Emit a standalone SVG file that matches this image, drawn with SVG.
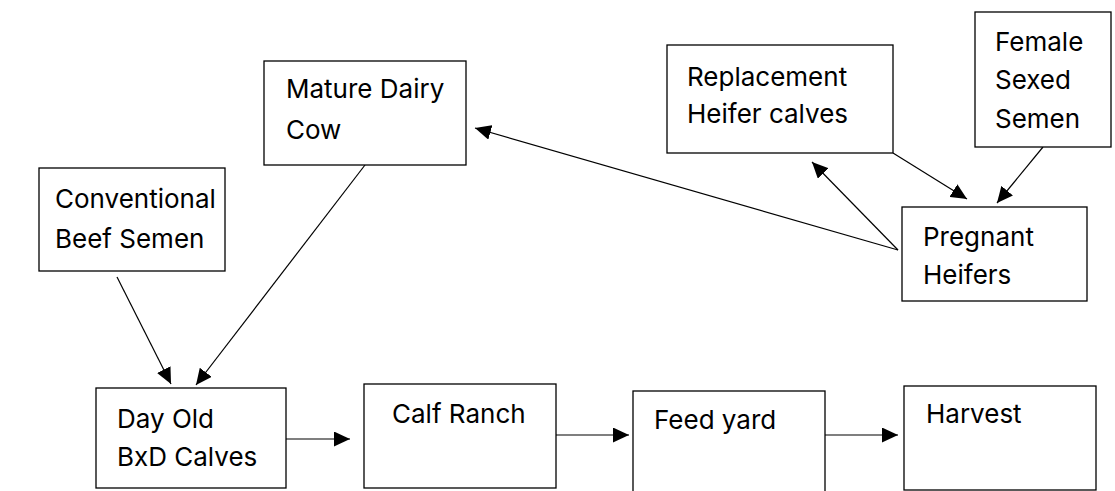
<svg xmlns="http://www.w3.org/2000/svg" width="1115" height="491" viewBox="0 0 1115 491">
<defs>
<style>
.box{fill:#fff;stroke:#000;stroke-width:1.3}
.t{font-family:Inter,"Liberation Sans",sans-serif;font-size:26px;fill:#000}
.c{stroke:#000;stroke-width:1.2;fill:none;marker-end:url(#ah)}
</style>
<marker id="ah" markerUnits="userSpaceOnUse" markerWidth="17" markerHeight="15" refX="16" refY="7.5" orient="auto">
<path d="M0,0 L16,7.5 L0,15 Z" fill="#000"/>
</marker>
</defs>
<rect width="1115" height="491" fill="#fff"/>
<g id="connectors">
<line class="c" x1="117" y1="277" x2="171" y2="384"/>
<line class="c" x1="365" y1="165" x2="196" y2="385"/>
<line class="c" x1="898" y1="250" x2="475" y2="128"/>
<line class="c" x1="898" y1="250" x2="812" y2="162"/>
<line class="c" x1="893" y1="153" x2="967" y2="199"/>
<line class="c" x1="1043" y1="147" x2="997" y2="203"/>
<line class="c" x1="286" y1="439" x2="350" y2="439"/>
<line class="c" x1="556" y1="435" x2="629" y2="435"/>
<line class="c" x1="825" y1="435" x2="898" y2="435"/>
</g>
<g id="mature">
<rect class="box" x="264" y="61" width="202" height="104"/>
<text class="t" x="286" y="98">Mature Dairy</text>
<text class="t" x="286" y="139">Cow</text>
</g>
<g id="replacement">
<rect class="box" x="667" y="45" width="226" height="108"/>
<text class="t" x="687" y="86">Replacement</text>
<text class="t" x="687" y="123">Heifer calves</text>
</g>
<g id="female">
<rect class="box" x="975" y="12" width="136" height="135"/>
<text class="t" x="995" y="51">Female</text>
<text class="t" x="995" y="89">Sexed</text>
<text class="t" x="995" y="128">Semen</text>
</g>
<g id="pregnant">
<rect class="box" x="902" y="207" width="185" height="94"/>
<text class="t" x="923" y="246">Pregnant</text>
<text class="t" x="923" y="284">Heifers</text>
</g>
<g id="conventional">
<rect class="box" x="39" y="168" width="186" height="103"/>
<text class="t" x="55" y="208">Conventional</text>
<text class="t" x="55" y="248">Beef Semen</text>
</g>
<g id="dayold">
<rect class="box" x="96" y="388" width="190" height="100"/>
<text class="t" x="117" y="428">Day Old</text>
<text class="t" x="117" y="466">BxD Calves</text>
</g>
<g id="calfranch">
<rect class="box" x="364" y="384" width="192" height="104"/>
<text class="t" x="392" y="423">Calf Ranch</text>
</g>
<g id="feedyard">
<rect class="box" x="633" y="391" width="192" height="102"/>
<text class="t" x="654" y="429">Feed yard</text>
</g>
<g id="harvest">
<rect class="box" x="904" y="386" width="192" height="104"/>
<text class="t" x="926" y="423">Harvest</text>
</g>
</svg>
